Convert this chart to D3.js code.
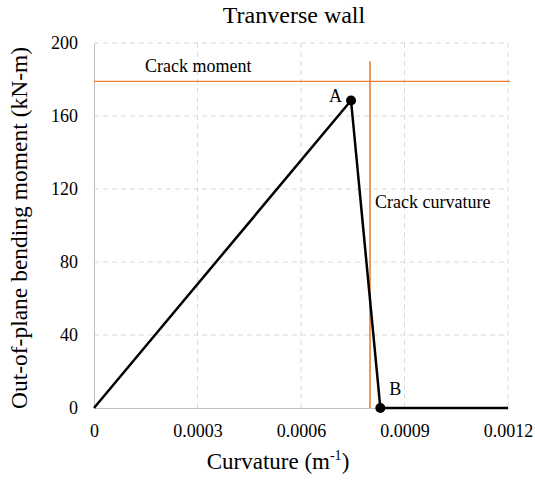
<!DOCTYPE html>
<html>
<head>
<meta charset="utf-8">
<script src="https://cdn.jsdelivr.net/npm/d3@7"></script>
<style>
  body { margin: 0; background: #fff; }
  text { font-family: "Liberation Serif", "Times New Roman", serif; fill: #000; }
</style>
</head>
<body>
<svg width="535" height="480"></svg>
<script>
// curve points (curvature, moment)
const curvature = [0, 0.000745, 0.00083, 0.0012];
const moment = [0, 168.5, 0, 0];
// labelled points
const markNames = ["A", "B"];
const markCurv = [0.000745, 0.00083];
const markMom = [168.5, 0];
// crack reference values
const crackMoment = 179;
const crackCurvature = 0.0008;
const xTicks = [0, 0.0003, 0.0006, 0.0009, 0.0012];
const xTickLabels = ["0", "0.0003", "0.0006", "0.0009", "0.0012"];
const yTicks = [0, 40, 80, 120, 160, 200];

const serif = "'Liberation Serif', 'Times New Roman', serif";
const svg = d3.select("svg");
const x = d3.scaleLinear().domain([0, 0.0012]).range([94, 508]);
const y = d3.scaleLinear().domain([0, 200]).range([408, 43]);

// grid
svg.append("g").selectAll("line").data(yTicks.slice(1))
  .enter().append("line")
  .attr("x1", x(0)).attr("x2", x(0.0012))
  .attr("y1", d => y(d)).attr("y2", d => y(d))
  .attr("stroke", "#d9d9d9").attr("stroke-dasharray", "5,4");
svg.append("g").selectAll("line").data(xTicks.slice(1))
  .enter().append("line")
  .attr("x1", d => x(d)).attr("x2", d => x(d))
  .attr("y1", y(0)).attr("y2", y(200))
  .attr("stroke", "#d9d9d9").attr("stroke-dasharray", "5,4");

// axes
const xAxis = d3.axisBottom(x).tickValues(xTicks).tickSize(0).tickPadding(16)
  .tickFormat((d, i) => xTickLabels[i]);
const gx = svg.append("g").attr("transform", `translate(0,${y(0)})`).call(xAxis)
  .attr("font-family", serif).attr("font-size", 18);
gx.select(".domain").attr("stroke", "#bfbfbf");

const yAxis = d3.axisLeft(y).tickValues(yTicks).tickSize(0).tickPadding(16);
const gy = svg.append("g").attr("transform", `translate(${x(0)},0)`).call(yAxis)
  .attr("font-family", serif).attr("font-size", 18);
gy.select(".domain").attr("stroke", "#bfbfbf");

// crack lines
svg.append("line")
  .attr("x1", x(0)).attr("x2", x(0.0012) + 2)
  .attr("y1", y(crackMoment)).attr("y2", y(crackMoment))
  .attr("stroke", "#ed7d31").attr("stroke-width", 1.3);
svg.append("line")
  .attr("x1", x(crackCurvature)).attr("x2", x(crackCurvature))
  .attr("y1", y(190)).attr("y2", y(0))
  .attr("stroke", "#ed7d31").attr("stroke-width", 1.6);

// curve
const line = d3.line().x(d => x(d[0])).y(d => y(d[1]));
svg.append("path")
  .datum(curvature.map((c, i) => [c, moment[i]]))
  .attr("d", line)
  .attr("fill", "none").attr("stroke", "#000").attr("stroke-width", 2.5);

svg.selectAll("circle.mark").data(markNames)
  .enter().append("circle")
  .attr("cx", (d, i) => x(markCurv[i])).attr("cy", (d, i) => y(markMom[i]))
  .attr("r", 5).attr("fill", "#000");

svg.append("text").attr("x", x(markCurv[0]) - 9).attr("y", y(markMom[0]) + 2)
  .attr("text-anchor", "end").style("font-size", "18px").text(markNames[0]);
svg.append("text").attr("x", x(markCurv[1]) + 9).attr("y", y(markMom[1]) - 13)
  .style("font-size", "18px").text(markNames[1]);

svg.append("text").attr("x", 145).attr("y", 72).style("font-size", "18px").text("Crack moment");
svg.append("text").attr("x", 375).attr("y", 208).style("font-size", "18px").text("Crack curvature");

// titles
svg.append("text").attr("x", 294).attr("y", 23).attr("text-anchor", "middle")
  .style("font-size", "24px").text("Tranverse wall");

const xl = svg.append("text").attr("x", 278).attr("y", 469).attr("text-anchor", "middle")
  .style("font-size", "23px");
xl.append("tspan").text("Curvature (m");
xl.append("tspan").attr("dy", -9).style("font-size", "14px").text("-1");
xl.append("tspan").attr("dy", 9).text(")");

svg.append("text").attr("transform", "translate(27,228) rotate(-90)")
  .attr("text-anchor", "middle").style("font-size", "23.5px")
  .text("Out-of-plane bending moment (kN-m)");
</script>
</body>
</html>
